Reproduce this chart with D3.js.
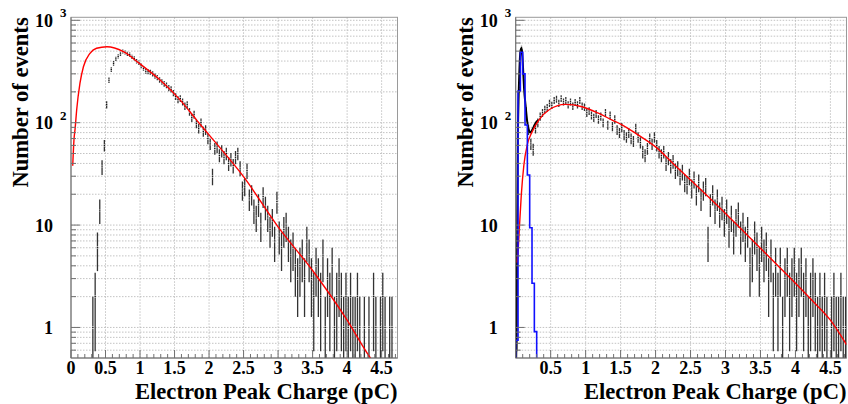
<!DOCTYPE html>
<html><head><meta charset="utf-8">
<script src="https://cdn.jsdelivr.net/npm/d3@7"></script>
<style>
body{margin:0;background:#fff}
svg{display:block}
text{font-family:"Liberation Serif","Times New Roman",serif;font-weight:bold;fill:#000}
</style>
</head><body>
<svg id="c" width="848" height="404"></svg>
<script>
// ---------- data ----------
const binWidth = 1/30;
const xDomain = [0, 4.73];
const yDomain = [0.503, 1070];
const xTicks = [0, 0.5, 1, 1.5, 2, 2.5, 3, 3.5, 4, 4.5];
const xTickLabels = ["0","0.5","1","1.5","2","2.5","3","3.5","4","4.5"];
const yDecades = [1, 10, 100, 1000];
const yTickBase = ["1", "10", "10", "10"];
const yTickExp = ["", "", "2", "3"];
const xTitle = "Electron Peak Charge (pC)";
const yTitle = "Number of events";

// left panel: histogram counts starting at bin index leftFirstBin
const leftFirstBin = 9;
const leftCounts = [
  1,2,6,14,37,60,150,260,330,380,420,445,470,495,485,
  470,462,440,425,398,385,
  360,340,318,315,312,300,285,276,262,250,
  240,232,218,212,195,180,168,172,160,145,
  150,128,112,120,98,88,100,82,85,70,
  62,30,56,58,48,53,46,50,40,44,
  38,46,50,36,22,24,34,18,20,14,
  12,16,10,19,15,12,9,11,7,17,
  8,6,9,10,7,5,6,4,3,4,
  5,3,7,5,3,2,4,3,2,5,
  1,3,2,4,1,2,3,2,1,2,
  1,2,1,1,2,1,0,1,0,1,
  0,2,1,0,1,2,1,0,1,1,
  0,0
];
const leftFitX = [0.025,0.043,0.06,0.082,0.13,0.18,0.275,0.37,0.52,0.76,1.0,1.29,1.58,1.82,2.0,2.5,3.0,3.5,4.0,4.34,4.45];
const leftFitY = [38,68,88,133,243,352,476,533,552,494,375,261,167,106,76,29.7,9.6,3.6,1.18,0.5,0.4];

// right panel
const rightFirstBin = 0;
const rightCounts = [
  2,210,540,250,130,85,62,55,88,100,
  115,125,135,140,155,148,165,170,155,172,
  160,165,150,160,145,158,150,165,145,142,
  125,130,118,112,122,108,115,100,125,95,
  118,92,108,85,80,90,76,72,80,70,
  66,88,72,64,52,48,56,70,62,72,
  60,52,48,52,40,45,38,42,34,36,
  30,33,26,25,30,23,28,20,26,18,
  22,24,7,16,20,14,18,13,15,11,
  14,9,12,8,11,13,8,10,7,9,
  4,5,8,6,4,7,5,6,3,5,
  2,4,2,4,1,3,4,2,3,4,
  2,3,4,2,3,1,2,3,2,1,
  2,1,2,1,0,1,2,1,1,2,
  1,1
];
const rightFitX = [0.02,0.04,0.055,0.08,0.117,0.165,0.236,0.33,0.473,0.71,0.95,1.19,1.38,1.5,1.75,2.0,2.25,2.5,2.75,3.0,3.25,3.5,3.75,4.0,4.25,4.5,4.73];
const rightFitY = [4.3,6.5,10,19.7,38.6,60.6,81.7,106,133,151,143,123,106,97,76,58,40,27.6,19,13,8.8,5.95,4,2.7,1.8,1.18,0.68];
const rightTotalX = [0.006,0.012,0.018,0.023,0.03,0.04,0.05,0.06,0.07,0.08,0.09,0.1,0.11,0.12,0.14,0.165,0.19,0.21,0.235,0.26,0.3,0.33];
const rightTotalY = [0.45,1.0,3,12,60,160,280,420,510,533,500,400,290,215,150,102,84,80,85,92,103,106];
const rightNoise = [0.75,204,487,300,95,30.8,9.4,2.7,0.91,0];

// ---------- drawing ----------
const svg = d3.select("#c");
const panels = [
  {id:"L", left:71, right:397.5, counts:leftCounts, first:leftFirstBin, fitX:leftFitX, fitY:leftFitY, showZero:true},
  {id:"R", left:515.7, right:846.5, counts:rightCounts, first:rightFirstBin, fitX:rightFitX, fitY:rightFitY, showZero:false,
   totX:rightTotalX, totY:rightTotalY, noise:rightNoise}
];
const plotTop = 17.3, plotBottom = 358;

panels.forEach(p => {
  const x = d3.scaleLinear().domain(xDomain).range([p.left, p.right]);
  const y = d3.scaleLog().domain(yDomain).range([plotBottom, plotTop]);
  const g = svg.append("g");
  const clipId = "clip" + p.id;
  svg.append("clipPath").attr("id", clipId).append("rect")
    .attr("x", p.left).attr("y", plotTop).attr("width", p.right - p.left).attr("height", plotBottom - plotTop);

  // grid
  const yGrid = [];
  for (let d = -1; d <= 3; d++) for (let k = 1; k <= 9; k++) {
    const v = k * Math.pow(10, d);
    if (v >= yDomain[0] && v <= yDomain[1]) yGrid.push(v);
  }
  const grid = g.append("g").attr("stroke", "#b4b4b4").attr("stroke-width", 0.8).attr("stroke-dasharray", "1.5,1.5");
  grid.selectAll("line.h").data(yGrid).enter().append("line")
    .attr("x1", p.left).attr("x2", p.right).attr("y1", d => y(d)).attr("y2", d => y(d));
  grid.selectAll("line.v").data(xTicks.filter(t => t > 0)).enter().append("line")
    .attr("y1", plotTop).attr("y2", plotBottom).attr("x1", d => x(d)).attr("x2", d => x(d));

  // frame
  g.append("rect").attr("x", p.left).attr("y", plotTop).attr("width", p.right - p.left).attr("height", plotBottom - plotTop)
    .attr("fill", "none").attr("stroke", "#9a9a9a").attr("stroke-width", 1);

  const plot = g.append("g").attr("clip-path", `url(#${clipId})`);

  // data points with error bars
  const pts = [];
  p.counts.forEach((n, k) => {
    if (n > 0) pts.push({c: (p.first + k + 0.5) * binWidth, n: n});
  });
  const eb = plot.append("g").attr("stroke", "#333").attr("stroke-width", 1.3);
  pts.forEach(d => {
    const cx = x(d.c), cy = y(d.n);
    const e = Math.sqrt(d.n);
    const yt = y(d.n + e);
    const yb = d.n - e > 0 ? y(d.n - e) : plotBottom + 2;
    if (cy - 1.2 > yt) eb.append("line").attr("x1", cx).attr("x2", cx).attr("y1", yt).attr("y2", cy - 1.2);
    if (yb > cy + 1.2) eb.append("line").attr("x1", cx).attr("x2", cx).attr("y1", cy + 1.2).attr("y2", yb);
    plot.append("rect").attr("x", cx - 0.7).attr("y", cy - 0.7).attr("width", 1.4).attr("height", 1.4).attr("fill", "#111");
  });

  const line = d3.line().x(d => x(d[0])).y(d => y(Math.max(d[1], 0.05))).curve(d3.curveMonotoneX);

  if (p.totX) {
    plot.append("path").attr("d", line(d3.zip(p.totX, p.totY)))
      .attr("fill", "none").attr("stroke", "#000").attr("stroke-width", 2);
  }
  plot.append("path").attr("d", line(d3.zip(p.fitX, p.fitY)))
    .attr("fill", "none").attr("stroke", "#ff0000").attr("stroke-width", 1.4);

  if (p.noise) {
    let path = "";
    const yy = v => v > yDomain[0] ? y(v) : plotBottom + 3;
    p.noise.forEach((v, k) => {
      const x0 = x(k * binWidth), x1 = x((k + 1) * binWidth);
      if (k === 0) path += `M${x0},${plotBottom + 3}L${x0},${yy(v)}`;
      else path += `L${x0},${yy(v)}`;
      path += `L${x1},${yy(v)}`;
    });
    plot.append("path").attr("d", path).attr("fill", "none").attr("stroke", "#1010ff").attr("stroke-width", 1.6);
  }

  // axes lines
  const ax = g.append("g").attr("stroke", "#707070").attr("stroke-width", 1);
  ax.append("line").attr("x1", p.left).attr("x2", p.left).attr("y1", plotTop).attr("y2", plotBottom);
  ax.append("line").attr("x1", p.left).attr("x2", p.right).attr("y1", plotBottom).attr("y2", plotBottom);
  yGrid.forEach(v => {
    const major = yDecades.includes(v);
    ax.append("line").attr("x1", p.left).attr("x2", p.left + (major ? 9 : 5)).attr("y1", y(v)).attr("y2", y(v));
  });
  const minor = d3.range(0, 48).map(i => i * 0.1).filter(v => v <= xDomain[1]);
  minor.forEach(v => {
    const major = Math.abs(v * 2 - Math.round(v * 2)) < 1e-6;
    ax.append("line").attr("x1", x(v)).attr("x2", x(v)).attr("y1", plotBottom).attr("y2", plotBottom - (major ? 8 : 4));
  });

  // tick labels
  xTicks.forEach((t, i) => {
    if (t === 0 && !p.showZero) return;
    g.append("text").attr("x", x(t)).attr("y", 374).attr("text-anchor", "middle")
      .attr("font-size", 18).text(xTickLabels[i]);
  });
  yDecades.forEach((v, i) => {
    const yy = y(v);
    g.append("text").attr("x", p.left - 18).attr("y", yy + 6.5).attr("text-anchor", "end")
      .attr("font-size", 18).text(yTickBase[i]);
    if (yTickExp[i]) {
      g.append("text").attr("x", p.left - 11).attr("y", yy - 3).attr("text-anchor", "start")
        .attr("font-size", 13).text(yTickExp[i]);
    }
  });

  // titles
  g.append("text").attr("x", p.right).attr("y", 398.5).attr("text-anchor", "end")
    .attr("font-size", 22.6).text(xTitle);
  g.append("text").attr("transform", `translate(${p.left - 43},${plotTop}) rotate(-90)`)
    .attr("text-anchor", "end").attr("font-size", 22.6).text(yTitle);
});
</script>
</body></html>
